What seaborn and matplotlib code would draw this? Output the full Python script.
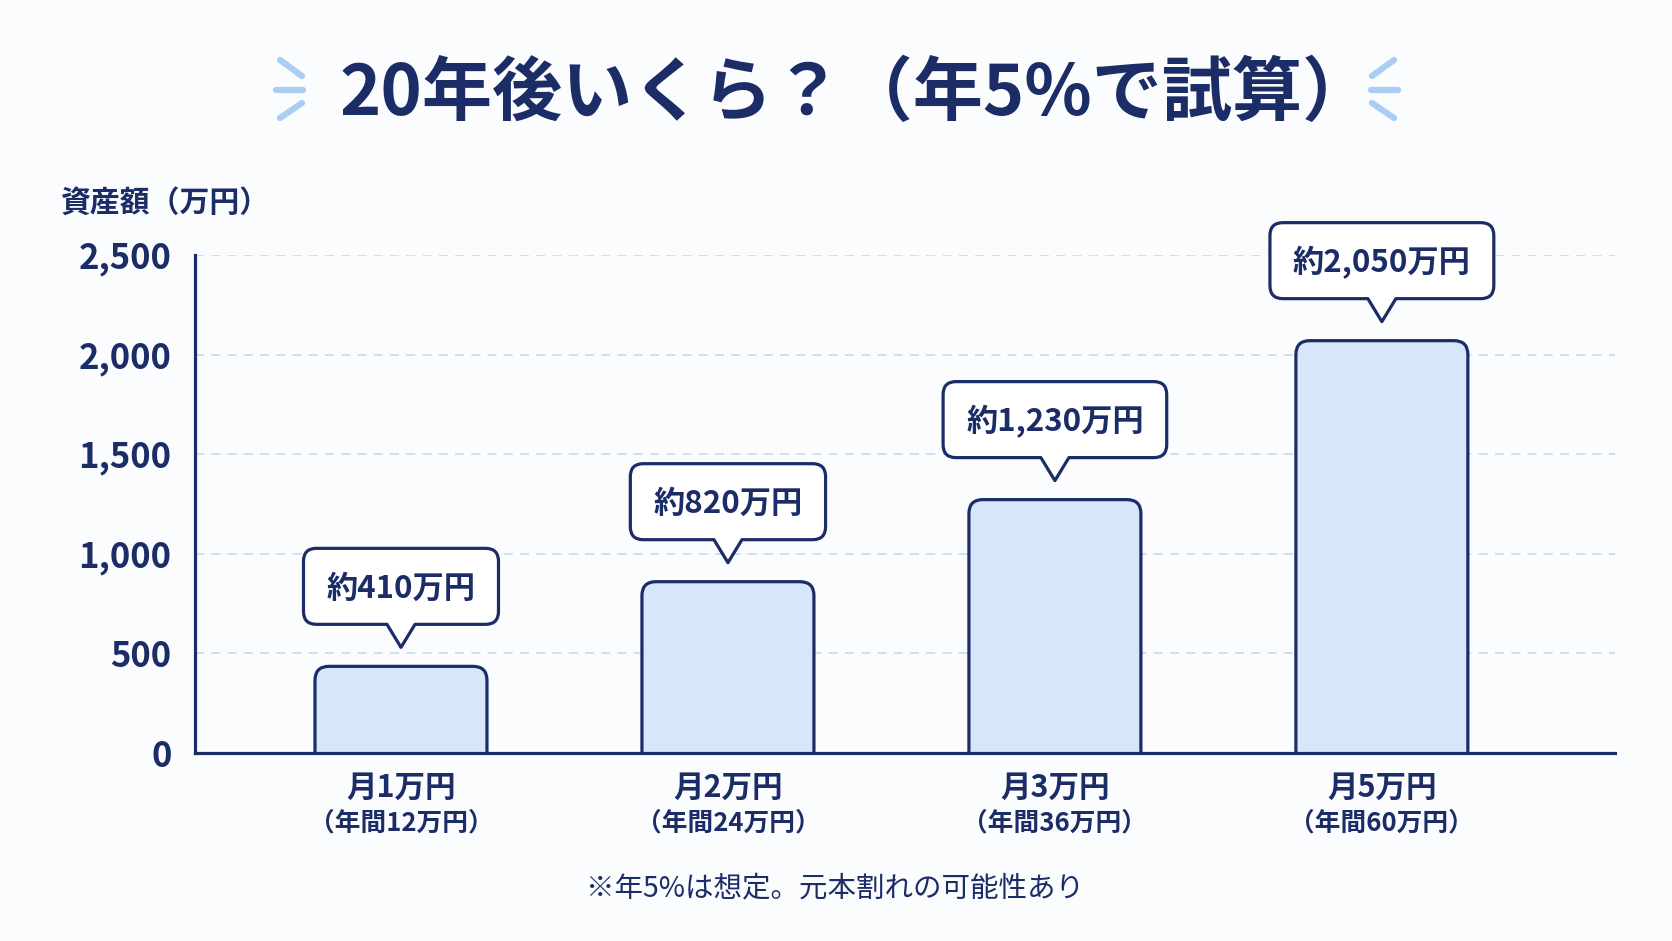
import numpy as np
import pandas as pd
import seaborn as sns
import matplotlib
matplotlib.use("Agg")
import matplotlib.pyplot as plt
from matplotlib.path import Path
from matplotlib.patches import PathPatch, FancyBboxPatch
from matplotlib.lines import Line2D
import matplotlib.transforms as mtransforms

# ---------------- data ----------------
categories = ["月1万円", "月2万円", "月3万円", "月5万円"]
annual_labels = ["（年間12万円）", "（年間24万円）", "（年間36万円）", "（年間60万円）"]
bar_values = [435, 860, 1272, 2070]
callout_labels = ["約410万円", "約820万円", "約1,230万円", "約2,050万円"]
y_ticks = [0, 500, 1000, 1500, 2000, 2500]
title_text = "20年後いくら？（年5%で試算）"
ylabel_text = "資産額（万円）"
footnote_text = "※年5%は想定。元本割れの可能性あり"

# ---------------- style ----------------
NAVY = "#1b2c66"
FILL = "#d7e6fb"
GRID = "#c9dcf2"
SPARK = "#a9cdf3"
BG = "#fbfcfe"

sns.set_theme(style="white")
plt.rcParams["font.family"] = ["Noto Sans CJK JP", "DejaVu Sans"]

W_PX, H_PX = 1672, 941
DPI = 100
fig = plt.figure(figsize=(W_PX / DPI, H_PX / DPI), dpi=DPI, facecolor=BG)

ax_left, ax_right, ax_bottom, ax_top = 195, 1615, 753, 255
ax = fig.add_axes([ax_left / W_PX, 1 - ax_bottom / H_PX,
                   (ax_right - ax_left) / W_PX, (ax_bottom - ax_top) / H_PX])
ax.set_facecolor(BG)

df = pd.DataFrame({"cat": categories, "val": bar_values})
sns.barplot(data=df, x="cat", y="val", ax=ax, width=0.526, color=FILL,
            edgecolor=NAVY, linewidth=2.2, saturation=1)

ax.set_xlim(-0.63, 3.713)
ax.set_ylim(0, 2500)

# px <-> data conversion
x_per_px = (3.713 + 0.63) / (ax_right - ax_left)
y_per_px = 2500 / (ax_bottom - ax_top)
aspect = y_per_px / x_per_px
r_px = 14

# replace bars with rounded-top versions
for p in list(ax.patches):
    x0, w, h = p.get_x(), p.get_width(), p.get_height()
    p.set_visible(False)
    fb = FancyBboxPatch((x0, -200), w, h + 200,
                        boxstyle=f"round,pad=0,rounding_size={r_px * x_per_px}",
                        mutation_aspect=aspect, facecolor=FILL, edgecolor=NAVY,
                        linewidth=2.3, zorder=3)
    ax.add_patch(fb)

# grid / spines
ax.set_yticks(y_ticks)
ax.set_yticklabels([f"{v:,}" for v in y_ticks], fontsize=25, fontweight="bold", color=NAVY)
ax.yaxis.grid(True, color=GRID, linestyle=(0, (5, 4)), linewidth=1.3)
ax.xaxis.grid(False)
ax.set_axisbelow(True)
for s in ["top", "right"]:
    ax.spines[s].set_visible(False)
for s in ["left", "bottom"]:
    ax.spines[s].set_color(NAVY)
    ax.spines[s].set_linewidth(2.3)
    ax.spines[s].set_zorder(5)
ax.tick_params(axis="both", length=0)
ax.tick_params(axis="y", pad=17)
ax.set_xticks(range(len(categories)))
ax.set_xticklabels([""] * len(categories))
ax.set_xlabel("")
ax.set_ylabel("")

# category labels (two lines)
for i, (c, a) in enumerate(zip(categories, annual_labels)):
    ax.annotate(c, xy=(i, 0), xycoords=("data", "axes fraction"), xytext=(0, -35),
                textcoords="offset pixels", ha="center", va="center",
                fontsize=22, fontweight="bold", color=NAVY, annotation_clip=False)
    ax.annotate(a, xy=(i, 0), xycoords=("data", "axes fraction"), xytext=(0, -70),
                textcoords="offset pixels", ha="center", va="center",
                fontsize=18.5, fontweight="bold", color=NAVY, annotation_clip=False)

# callout bubbles
gap, ph, hw, BH, rad, pad = 19, 23, 14, 76, 13, 23
fig.canvas.draw()
renderer = fig.canvas.get_renderer()
for i, (v, lab) in enumerate(zip(bar_values, callout_labels)):
    t = ax.annotate(lab, xy=(i, v), xytext=(0, gap + ph + BH / 2 - 2),
                    textcoords="offset pixels", ha="center", va="center",
                    fontsize=22.5, fontweight="bold", color=NAVY, zorder=7,
                    annotation_clip=False)
    tw = t.get_window_extent(renderer).width
    BW = tw + 2 * pad
    hb = BW / 2
    y0, y1 = gap + ph, gap + ph + BH
    verts = [
        (0, gap), (hw, y0), (hb - rad, y0), (hb, y0), (hb, y0 + rad),
        (hb, y1 - rad), (hb, y1), (hb - rad, y1),
        (-hb + rad, y1), (-hb, y1), (-hb, y1 - rad),
        (-hb, y0 + rad), (-hb, y0), (-hb + rad, y0),
        (-hw, y0), (0, gap), (0, gap),
    ]
    codes = [Path.MOVETO, Path.LINETO, Path.LINETO, Path.CURVE3, Path.CURVE3,
             Path.LINETO, Path.CURVE3, Path.CURVE3,
             Path.LINETO, Path.CURVE3, Path.CURVE3,
             Path.LINETO, Path.CURVE3, Path.CURVE3,
             Path.LINETO, Path.LINETO, Path.CLOSEPOLY]
    trans = mtransforms.Affine2D() + mtransforms.ScaledTranslation(i, v, ax.transData)
    pp = PathPatch(Path(verts, codes), transform=trans, facecolor="white",
                   edgecolor=NAVY, linewidth=2.3, zorder=6, clip_on=False,
                   joinstyle="round")
    ax.add_patch(pp)

# title & decorations
fig.text(856 / W_PX, 1 - 95 / H_PX, title_text, ha="center", va="center",
         fontsize=50.5, fontweight="bold", color=NAVY)

def fig_line(x0, y0, x1, y1):
    fig.add_artist(Line2D([x0 / W_PX, x1 / W_PX], [1 - y0 / H_PX, 1 - y1 / H_PX],
                          transform=fig.transFigure, color=SPARK, linewidth=4.5,
                          solid_capstyle="round"))

left_marks = [(280, 60, 302, 76), (276, 90, 303, 90), (280, 118, 302, 103)]
cx = 837
for (a, b, c, d) in left_marks:
    fig_line(a, b, c, d)
    fig_line(2 * cx - a, b, 2 * cx - c, d)

fig.text(61 / W_PX, 1 - 203 / H_PX, ylabel_text, ha="left", va="center",
         fontsize=21.5, fontweight="bold", color=NAVY)

fig.text(835 / W_PX, 1 - 888 / H_PX, footnote_text, ha="center", va="center",
         fontsize=20.5, color=NAVY)

fig.savefig("out.png", dpi=DPI, facecolor=BG)
